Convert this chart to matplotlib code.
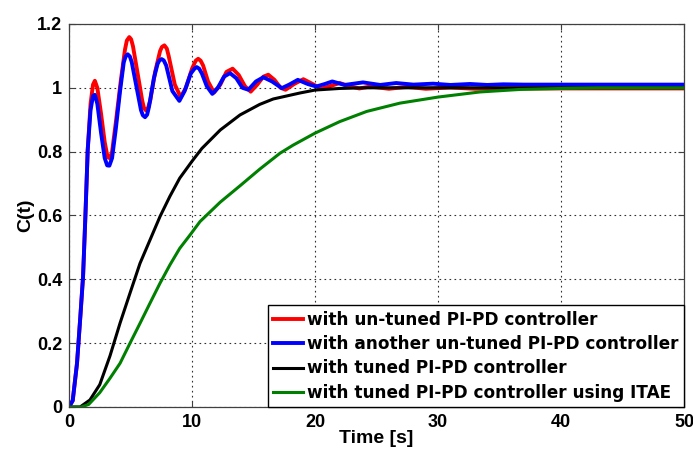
"""
plot.py — step responses C(t) of the PI-PD controller variants.
"""

import matplotlib
matplotlib.use("Agg")
import matplotlib.pyplot as plt

plt.rcParams["font.family"] = ["Liberation Sans", "DejaVu Sans"]
plt.rcParams["font.weight"] = "bold"

# --- values ---------------------------------------------------------------
t_untuned = [0, 0.3, 0.65, 0.92, 1.14, 1.33, 1.52, 1.75, 1.95, 2.1, 2.3, 2.6,
             2.9, 3.1, 3.18, 3.28, 3.38, 3.5, 3.8, 4.2, 4.55, 4.7, 4.9, 5.05,
             5.2, 5.6, 5.95, 6.1, 6.26, 6.42, 6.6, 7.0, 7.4, 7.55, 7.75, 7.95,
             8.1, 8.6, 9.08, 9.5, 10.0, 10.3, 10.5, 10.7, 10.9, 11.3, 11.79,
             12.3, 12.8, 13.3, 13.8, 14.3, 14.77, 15.3, 15.8, 16.2, 16.7, 17.2,
             17.6, 18.3, 19.05, 19.8, 20.5, 21.2, 22.0, 22.8, 23.6, 24.5, 26.0,
             27.5, 29.0, 31.0, 33.0, 36.0, 50.0]
c_untuned = [0, 0.02, 0.137, 0.283, 0.408, 0.597, 0.806, 0.95, 1.01, 1.022,
             1.0, 0.92, 0.83, 0.79, 0.782, 0.78, 0.785, 0.80, 0.89, 1.02, 1.12,
             1.148, 1.159, 1.152, 1.13, 1.04, 0.96, 0.936, 0.929, 0.937, 0.96,
             1.05, 1.115, 1.128, 1.133, 1.123, 1.10, 1.01, 0.971, 1.0, 1.06,
             1.085, 1.091, 1.085, 1.07, 1.02, 0.985, 1.01, 1.05, 1.06, 1.04,
             1.005, 0.988, 1.01, 1.035, 1.041, 1.025, 1.0, 0.994, 1.012, 1.027,
             1.012, 0.997, 1.005, 1.015, 1.005, 0.998, 1.004, 0.997, 1.003,
             0.997, 1.001, 0.997, 0.998, 0.998]

t_another = [0, 0.3, 0.65, 0.92, 1.14, 1.33, 1.52, 1.75, 1.95, 2.1, 2.3, 2.6,
             2.9, 3.1, 3.28, 3.5, 3.8, 4.15, 4.45, 4.6, 4.77, 4.95, 5.1, 5.5,
             5.85, 6.0, 6.18, 6.35, 6.5, 6.9, 7.2, 7.35, 7.53, 7.7, 7.9, 8.4,
             8.97, 9.4, 9.9, 10.2, 10.38, 10.58, 10.8, 11.2, 11.65, 12.1, 12.6,
             13.09, 13.6, 14.1, 14.58, 15.2, 15.8, 16.5, 17.3, 17.9, 18.6,
             19.4, 20.1, 20.8, 21.4, 22.4, 23.9, 25.3, 26.6, 28.0, 29.6, 31.0,
             32.6, 34.0, 35.3, 37.0, 50.0]
c_another = [0, 0.02, 0.137, 0.283, 0.408, 0.597, 0.806, 0.93, 0.975, 0.978,
             0.95, 0.86, 0.78, 0.757, 0.756, 0.78, 0.87, 0.99, 1.08, 1.098,
             1.105, 1.098, 1.08, 1.0, 0.93, 0.914, 0.908, 0.916, 0.94, 1.03,
             1.075, 1.086, 1.09, 1.086, 1.07, 0.99, 0.959, 0.99, 1.045, 1.06,
             1.065, 1.06, 1.045, 1.005, 0.981, 1.0, 1.035, 1.046, 1.03, 1.0,
             0.994, 1.02, 1.033, 1.02, 0.999, 1.01, 1.025, 1.012, 1.004, 1.012,
             1.02, 1.009, 1.017, 1.009, 1.015, 1.01, 1.013, 1.009, 1.012,
             1.009, 1.011, 1.01, 1.01]

t_tuned = [0, 0.9, 1.7, 2.5, 3.33, 4.15, 4.96, 5.77, 6.58, 7.4, 8.2, 9.0,
           10.0, 10.8, 12.3, 13.9, 15.5, 16.6, 18.8, 20.0, 22.0, 24.0, 50.0]
c_tuned = [0, 0, 0.022, 0.07, 0.16, 0.263, 0.357, 0.45, 0.523, 0.597, 0.66,
           0.717, 0.77, 0.81, 0.868, 0.915, 0.948, 0.965, 0.984, 0.993, 0.998,
           1.0, 1.0]

t_itae = [0, 1.0, 1.6, 2.5, 3.33, 4.15, 4.96, 5.77, 6.58, 7.4, 8.2, 9.0, 9.84,
          10.65, 12.3, 13.9, 15.5, 17.15, 18.2, 20.0, 22.0, 24.2, 26.9, 30.0,
          33.4, 36.7, 40.0, 43.0, 50.0]
c_itae = [0, 0, 0.008, 0.045, 0.09, 0.137, 0.2, 0.262, 0.325, 0.388, 0.445,
          0.497, 0.539, 0.581, 0.642, 0.693, 0.745, 0.795, 0.82, 0.858, 0.894,
          0.926, 0.952, 0.971, 0.987, 0.995, 0.998, 1.0, 1.0]

labels = [
    "with un-tuned PI-PD controller",
    "with another un-tuned PI-PD controller",
    "with tuned PI-PD controller",
    "with tuned PI-PD controller using ITAE",
]

x_ticks = [0, 10, 20, 30, 40, 50]
y_ticks = [0, 0.2, 0.4, 0.6, 0.8, 1.0, 1.2]
y_tick_labels = ["0", "0.2", "0.4", "0.6", "0.8", "1", "1.2"]


def plot(save_path="out.png"):
    fig = plt.figure(figsize=(6.93, 4.5), dpi=100)
    ax = fig.add_axes([0.0996, 0.0956, 0.8875, 0.8511])

    ax.plot(t_untuned, c_untuned, color="#FF0000", lw=2.8, label=labels[0])
    ax.plot(t_another, c_another, color="#0000FF", lw=2.8, label=labels[1])
    ax.plot(t_tuned, c_tuned, color="#000000", lw=2.2, label=labels[2])
    ax.plot(t_itae, c_itae, color="#008000", lw=2.2, label=labels[3])

    ax.set_xlim(0, 50)
    ax.set_ylim(0, 1.2)
    ax.set_xticks(x_ticks)
    ax.set_yticks(y_ticks)
    ax.set_yticklabels(y_tick_labels)
    ax.tick_params(direction="in", length=4, width=0.8, top=True, right=True,
                   labelsize=13, color="#404040", pad=5)
    for lbl in ax.get_xticklabels() + ax.get_yticklabels():
        lbl.set_fontweight("bold")

    ax.grid(True, color="#303030", linestyle=(0, (1.5, 3)), linewidth=0.8)
    ax.set_axisbelow(True)
    for sp in ax.spines.values():
        sp.set_color("#404040")
        sp.set_linewidth(0.9)

    ax.set_xlabel("Time [s]", fontsize=14, fontweight="bold", labelpad=-1)
    ax.set_ylabel("C(t)", fontsize=14, fontweight="bold", labelpad=2)

    leg = ax.legend(loc="lower right", bbox_to_anchor=(1, 0), borderaxespad=0,
                    prop={"family": "DejaVu Sans", "weight": "bold", "size": 12.2},
                    fancybox=False, framealpha=1, edgecolor="#000000",
                    handlelength=1.8, handletextpad=0.25, labelspacing=0.38,
                    borderpad=0.3)
    leg.get_frame().set_linewidth(1.0)

    fig.savefig(save_path, dpi=100)


if __name__ == "__main__":
    plot()
